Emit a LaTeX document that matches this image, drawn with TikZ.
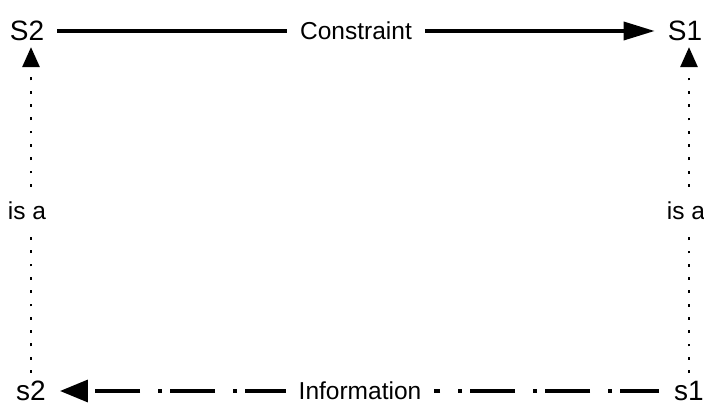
\documentclass[tikz,border=0pt]{standalone}
\usepackage{fontspec}
\setmainfont{Liberation Sans}
\usetikzlibrary{arrows.meta}
\tikzset{
  ent/.style={inner sep=0pt, font=\fontsize{28}{28}\selectfont},
  lab/.style={fill=white, inner xsep=13pt, inner ysep=2pt, font=\fontsize{24.5}{24.5}\selectfont},
  cons/.style={line width=3.5pt, -{Triangle[length=31pt,width=18pt]}},
  info/.style={line width=3.5pt, dash pattern=on 45pt off 8pt on 4pt off 18pt, dash phase=6pt, -{Triangle[length=28pt,width=22pt]}},
  isa/.style={line width=2.8pt, dash pattern=on 2.8pt off 10.5pt, -{Triangle[length=20pt,width=17pt]}}
}
\begin{document}
\begin{tikzpicture}[x=1pt,y=-1pt]
\useasboundingbox (0,0) rectangle (704,406);
\node[ent] (S2) at (27,31) {S2};
\node[ent] (S1) at (685,31) {S1};
\node[ent] (s2) at (31,391) {s2};
\node[ent] (s1) at (689,391) {s1};
\draw[cons, shorten <=13pt, shorten >=13pt] (S2) -- node[lab] {Constraint} (S1);
\draw[info, shorten <=15pt, shorten >=14pt] (s1) -- node[lab] {Information} (s2);
\draw[isa, shorten <=8pt, shorten >=6pt] (s2.north) -- node[lab, inner xsep=0pt, inner ysep=8pt, xshift=-4pt] {is a} (s2.north |- S2.south);
\draw[isa, shorten <=8pt, shorten >=6pt] (s1.north) -- node[lab, inner xsep=0pt, inner ysep=8pt, xshift=-3pt] {is a} (s1.north |- S1.south);
\end{tikzpicture}
\end{document}
